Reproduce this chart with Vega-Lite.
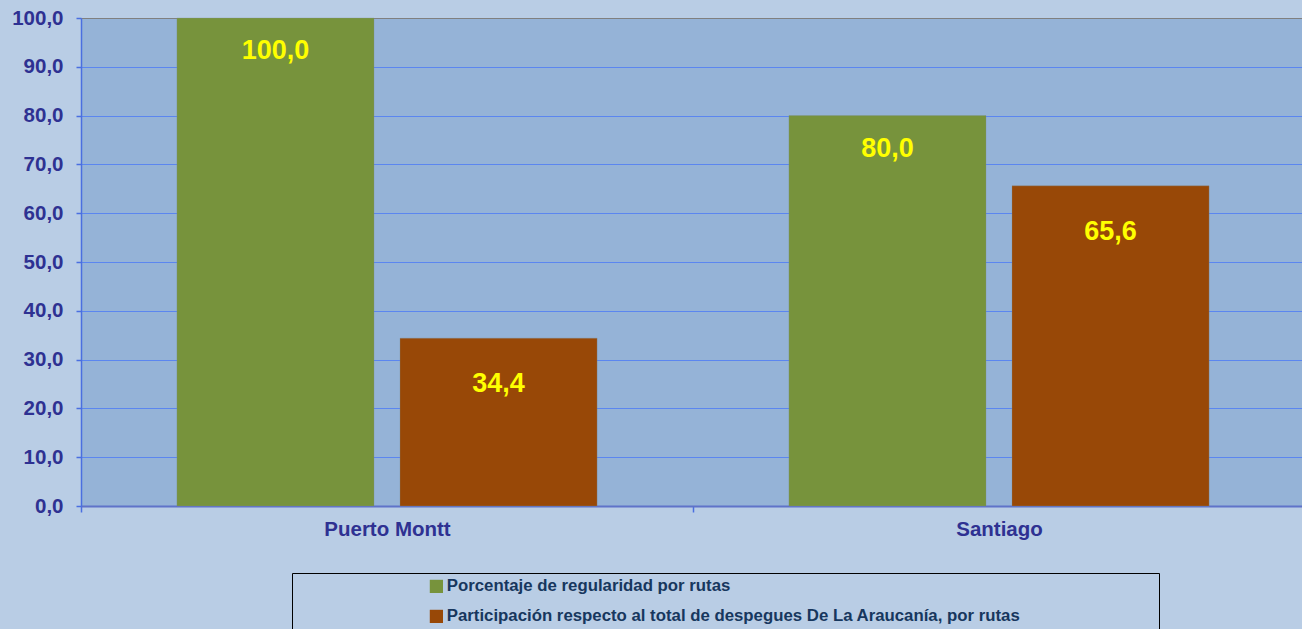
{
  "$schema": "https://vega.github.io/schema/vega-lite/v6.json",
  "width": 1224,
  "height": 488,
  "autosize": {"type": "none"},
  "padding": {"left": 81, "top": 18, "right": 0, "bottom": 123},
  "background": "#B9CDE5",
  "config": {
    "locale": {"number": {"decimal": ",", "thousands": ".", "grouping": [3], "currency": ["$", ""]}},
    "view": {"fill": "#95B3D7", "stroke": "#808080", "strokeWidth": 1},
    "font": "Liberation Sans"
  },
  "data": {
    "values": [
      {"ciudad": "Puerto Montt", "serie": "Porcentaje de regularidad por rutas", "valor": 100.0},
      {"ciudad": "Puerto Montt", "serie": "Participación respecto al total de despegues De La Araucanía, por rutas", "valor": 34.4},
      {"ciudad": "Santiago", "serie": "Porcentaje de regularidad por rutas", "valor": 80.0},
      {"ciudad": "Santiago", "serie": "Participación respecto al total de despegues De La Araucanía, por rutas", "valor": 65.6}
    ]
  },
  "encoding": {
    "x": {
      "field": "ciudad",
      "type": "nominal",
      "scale": {"paddingInner": 0, "paddingOuter": 0},
      "axis": {
        "title": null,
        "labelAngle": 0,
        "labelFont": "Liberation Sans",
        "labelFontSize": 20.5,
        "labelFontWeight": "bold",
        "labelColor": "#2E3192",
        "labelPadding": 7,
        "domainColor": "#5F73C9",
        "domainWidth": 2,
        "tickBand": "extent",
        "tickColor": "#4A6FE0",
        "tickSize": 6,
        "tickWidth": 1.5,
        "grid": false
      }
    },
    "xOffset": {
      "field": "serie",
      "type": "nominal",
      "sort": ["Porcentaje de regularidad por rutas", "Participación respecto al total de despegues De La Araucanía, por rutas"],
      "scale": {"paddingInner": 0.1166, "paddingOuter": 0.43}
    },
    "y": {
      "field": "valor",
      "type": "quantitative",
      "scale": {"domain": [0, 100], "nice": false},
      "axis": {
        "title": null,
        "values": [0, 10, 20, 30, 40, 50, 60, 70, 80, 90, 100],
        "format": ".1f",
        "labelFont": "Liberation Sans",
        "labelFontSize": 20.5,
        "labelFontWeight": "bold",
        "labelColor": "#2E3192",
        "labelPadding": 13,
        "domainColor": "#4A6FE0",
        "domainWidth": 1.5,
        "tickColor": "#4A6FE0",
        "tickSize": 5,
        "tickWidth": 1.5,
        "grid": true,
        "gridColor": {"condition": {"test": "datum.value == 100", "value": "#808080"}, "value": "#5B86F0"},
        "gridWidth": 1.2,
        "gridOpacity": 1
      }
    }
  },
  "layer": [
    {
      "mark": {"type": "bar", "stroke": "#7F8C8D", "strokeWidth": 0.5, "strokeOpacity": 0.6},
      "encoding": {
        "color": {
          "field": "serie",
          "type": "nominal",
          "scale": {
            "domain": ["Porcentaje de regularidad por rutas", "Participación respecto al total de despegues De La Araucanía, por rutas"],
            "range": ["#77933C", "#984807"]
          },
          "legend": {
            "title": " ",
            "titleOrient": "right",
            "titlePadding": 134,
            "orient": "none",
            "legendX": 211,
            "legendY": 555,
            "direction": "vertical",
            "strokeColor": "#000000",
            "padding": 5,
            "symbolType": "square",
            "symbolSize": 175,
            "symbolStrokeWidth": 0,
            "symbolOffset": 131,
            "labelOffset": 2,
            "labelFont": "Liberation Sans",
            "labelFontSize": 16.8,
            "labelFontWeight": "bold",
            "labelColor": "#17375E",
            "labelLimit": 900,
            "rowPadding": 12
          }
        }
      }
    },
    {
      "transform": [{"filter": "datum.serie == 'Porcentaje de regularidad por rutas'"}],
      "mark": {"type": "text", "baseline": "middle", "dy": 33, "font": "Liberation Sans", "fontSize": 27, "fontWeight": "bold", "color": "#FFFF00"},
      "encoding": {
        "text": {"field": "valor", "type": "quantitative", "format": ".1f"}
      }
    },
    {
      "transform": [{"filter": "datum.serie != 'Porcentaje de regularidad por rutas'"}],
      "mark": {"type": "text", "baseline": "middle", "dy": 46, "font": "Liberation Sans", "fontSize": 27, "fontWeight": "bold", "color": "#FFFF00"},
      "encoding": {
        "text": {"field": "valor", "type": "quantitative", "format": ".1f"}
      }
    }
  ]
}
